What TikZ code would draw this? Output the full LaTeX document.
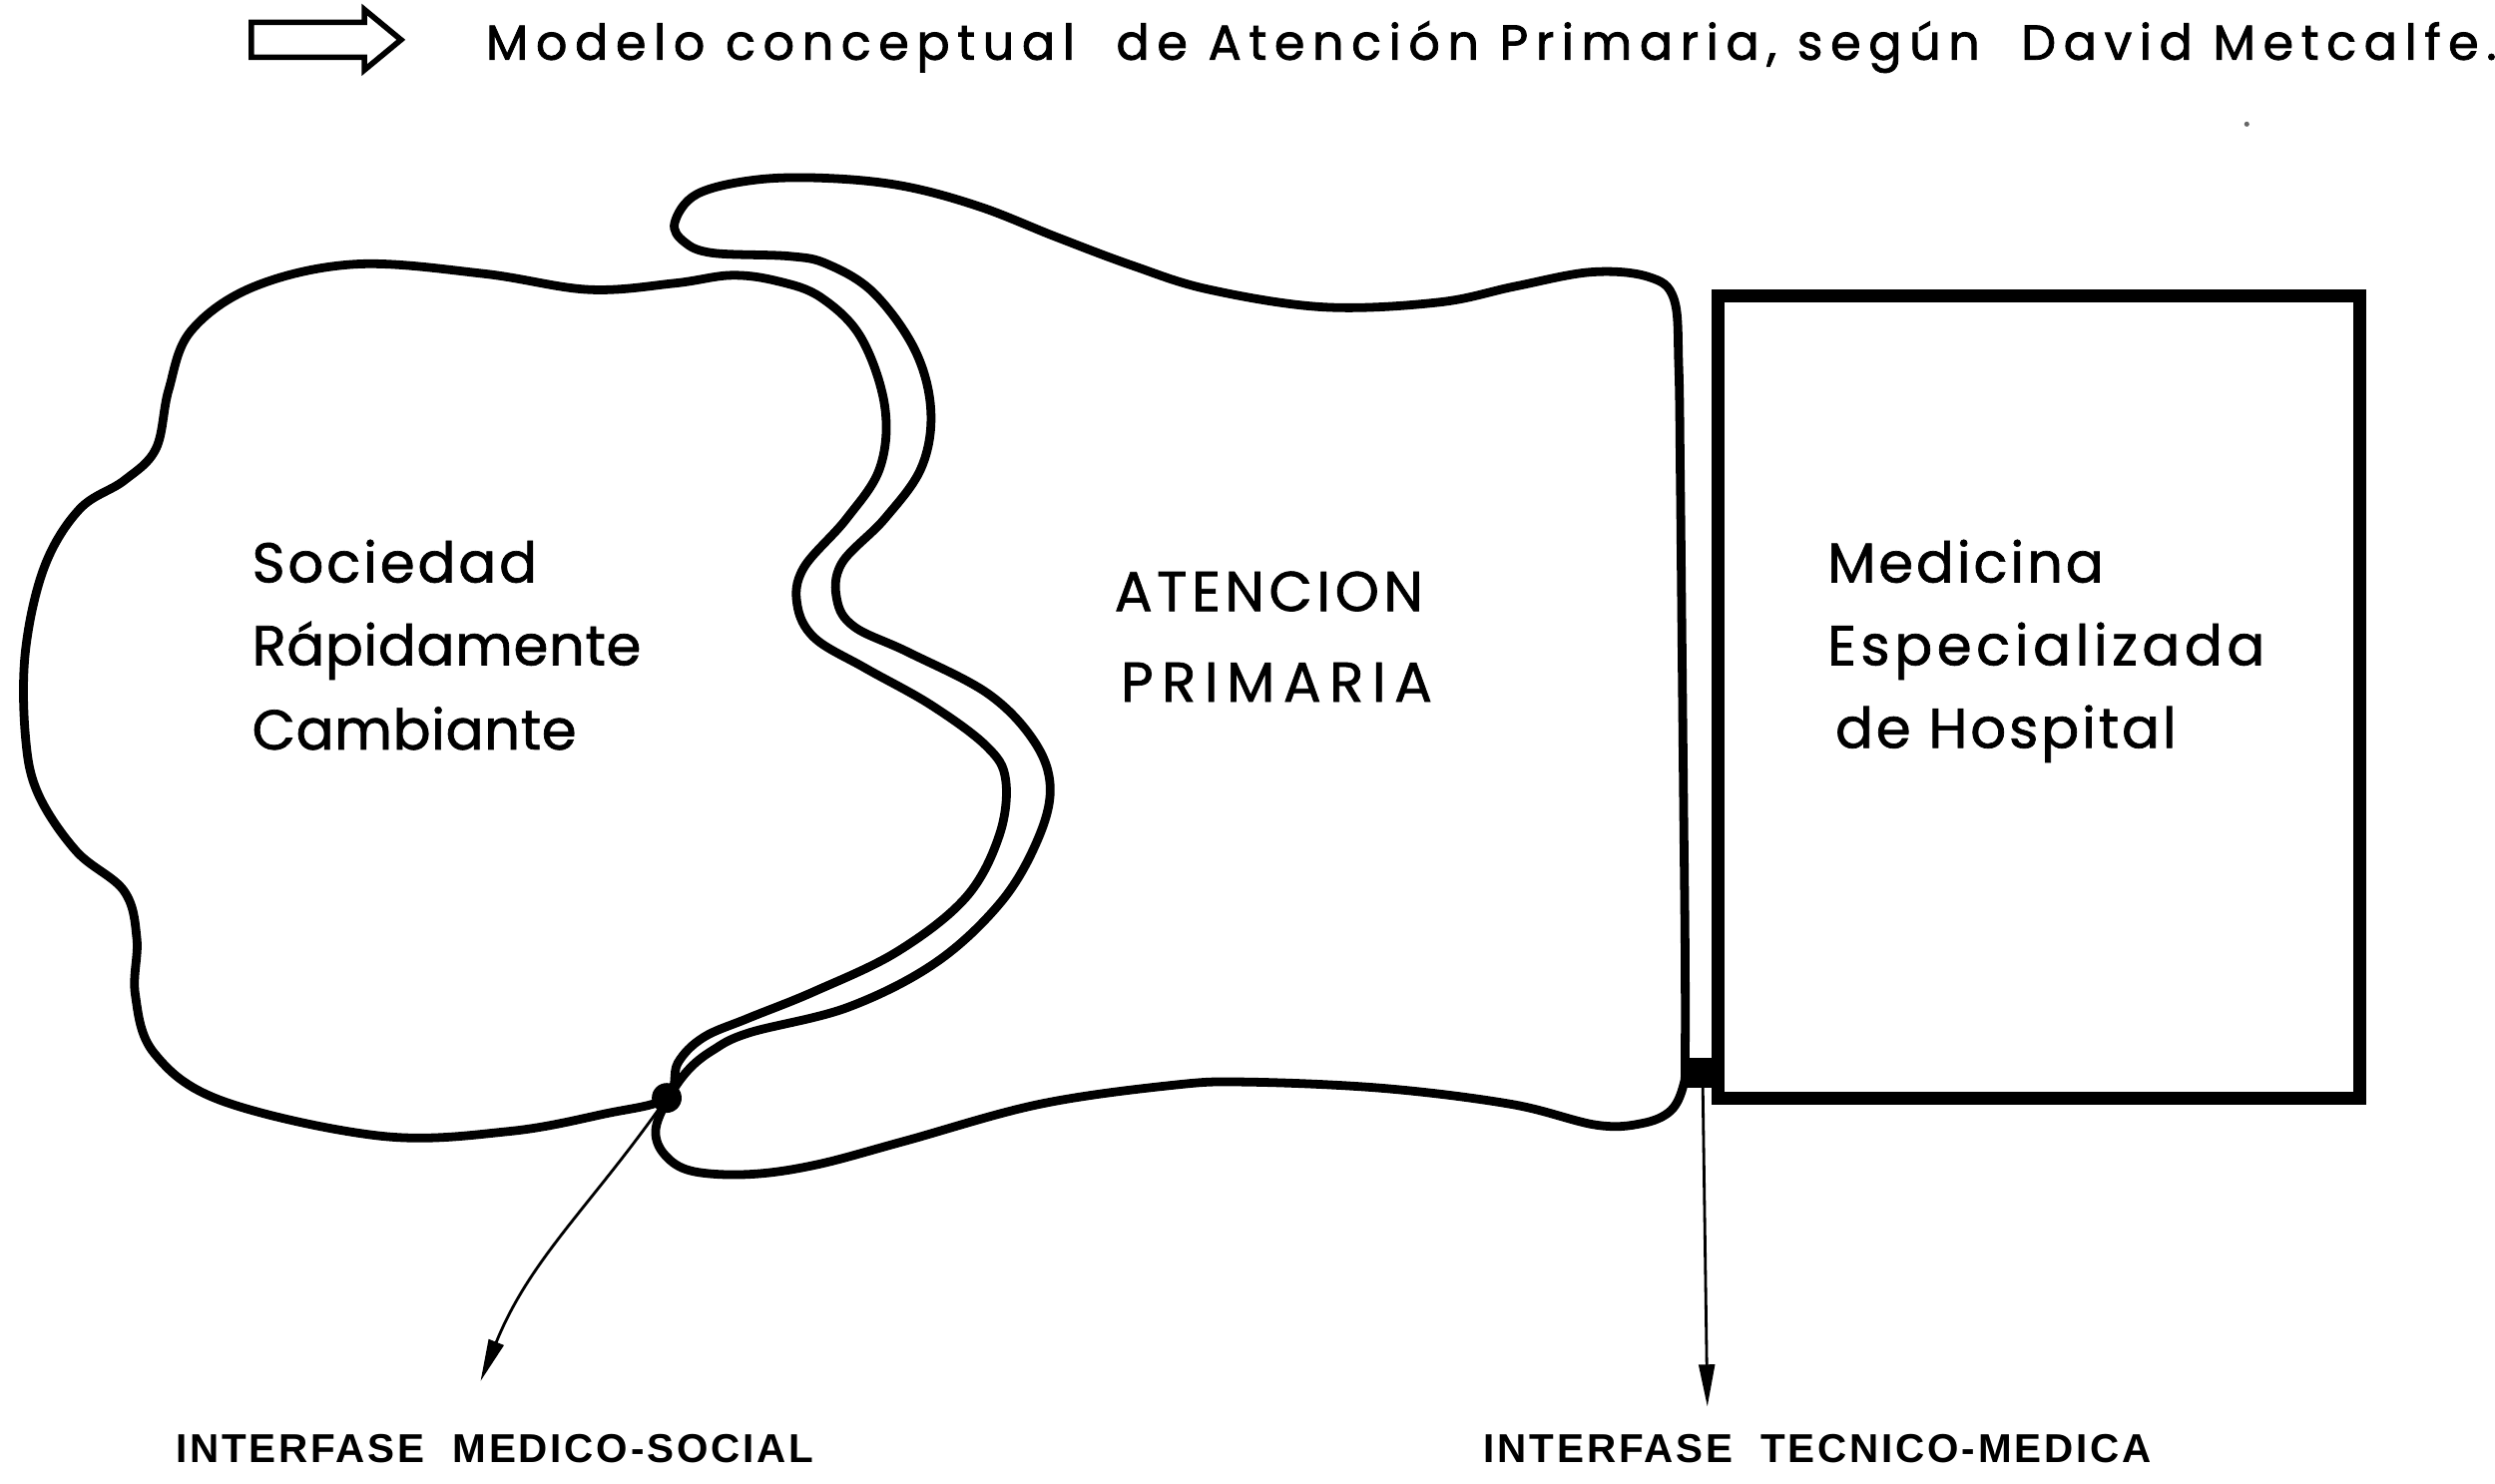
\documentclass[tikz,border=0pt]{standalone}
\usepackage{fontspec}
\setmainfont{Poppins}
\newfontfamily\lblfont{Liberation Sans}[LetterSpace=7]
\newfontfamily\ttlfont{Poppins}[LetterSpace=15.5,FakeBold=1.6]
\newfontfamily\boxA{Poppins}[LetterSpace=1,FakeBold=1.2]
\newfontfamily\boxB{Poppins}[LetterSpace=5,FakeBold=1.2]
\newfontfamily\boxC{Poppins}[LetterSpace=8,FakeBold=1.2]
\newfontfamily\boxD{Poppins}[LetterSpace=15,FakeBold=1.2]
\usetikzlibrary{arrows.meta}
\begin{document}
\begin{tikzpicture}[x=0.015944cm, y=-0.015944cm,
  outline/.style={line width=2.5pt, line join=round},
  boxline/.style={line width=3.7pt},
  pointer/.style={line width=0.8pt, -{Triangle[length=12pt,width=4.5pt]}},
  lbl/.style={anchor=base west, inner sep=0, font=\fontsize{16}{19}\selectfont},
  bottomlbl/.style={anchor=base west, inner sep=0, font=\lblfont\bfseries\fontsize{11.5}{13}\selectfont},
  titlelbl/.style={anchor=base west, inner sep=0, font=\ttlfont\fontsize{14}{16}\selectfont}
]
\useasboundingbox (0,0) rectangle (1568,932.6);

% title
\draw[line width=1.6pt, line join=miter] (158,14) -- (229,14) -- (229,6) -- (252,25) -- (229,44) -- (229,36) -- (158,36) -- cycle;
\node[titlelbl] (title) at (305,37.5) {Modelo conceptual\ \ de Atención Primaria, según\ \ David Metcalfe.};
\fill[black!60] (1412,78) circle (1.6);

% Sociedad (cloud)
\draw[outline] plot[smooth cycle, tension=0.6] coordinates {
 (419,690) (426,668) (442,652) (470,640) (512,623) (564,598) (607,564) (628,525)
 (632,490) (620,469) (585,443) (544,420) (512,401) (501,380) (505,357) (532,326)
 (553,294) (556,255) (541,212) (516,187) (490,177) (460,173) (424,178) (370,182)
 (304,172) (224,166) (160,180) (120,208) (106,245) (98,282) (78,302) (50,320)
 (28,356) (16,409) (16,463) (24,499) (48,535) (78,560) (86,590) (85,625)
 (97,662) (140,692) (240,714) (320,711) (380,700)};

% Atencion Primaria
\draw[outline] plot[smooth cycle, tension=0.6] coordinates {
 (424,140) (438,122) (475,113) (520,112) (568,117) (616,130) (664,149) (712,167)
 (760,182) (832,193) (904,190) (952,180) (1000,171) (1036,174) (1052,188)
 (1055,230) (1056,300) (1057,400) (1058,500) (1059,600) (1059,665) (1058,682)
 (1050,698) (1032,706) (1003,707) (950,694) (870,684) (784,680) (737,682)
 (653,694) (569,717) (513,732) (471,738) (435,736) (418,726) (412,711)
 (419,692) (432,673) (448,660) (471,649) (533,633) (588,605) (629,567)
 (652,528) (660,495) (650,466) (621,436) (571,410) (537,394) (526,377)
 (529,354) (556,326) (579,294) (585,258) (575,220) (549,184) (520,166)
 (496,161) (448,159) (430,152)};

% Hospital box
\draw[boxline] (1080,186) rectangle (1483,690);

% texts
\node[lbl] (soc1) at (158,366) {\boxB Sociedad};
\node[lbl] (soc2) at (158,418) {\boxA Rápidamente};
\node[lbl] (soc3) at (158,471) {\boxA Cambiante};
\node[lbl] (ap1) at (700,384) {\boxC ATENCION};
\node[lbl] (ap2) at (704,441) {\boxD PRIMARIA};
\node[lbl] (hos1) at (1148,366) {\boxB Medicina};
\node[lbl] (hos2) at (1148,418) {\boxC Especializada};
\node[lbl] (hos3) at (1153,470) {\boxB de Hospital};

% interfaces
\node[circle, fill, inner sep=0, minimum size=8.5pt] (dotL) at (419,690) {};
\node[fill, inner sep=0, minimum width=11pt, minimum height=8.5pt] (dotR) at (1070,674) {};
\coordinate (tipL) at (302,868);
\coordinate (tipR) at (1073,884);
\draw[pointer] (dotL.center) to[out=235,in=68] (tipL);
\draw[pointer] (dotR.center) -- (tipR);

\node[bottomlbl] (ims) at (110,919) {INTERFASE\ \ MEDICO-SOCIAL};
\node[bottomlbl] (itm) at (932,919) {INTERFASE\ \ TECNICO-MEDICA};
\end{tikzpicture}
\end{document}
